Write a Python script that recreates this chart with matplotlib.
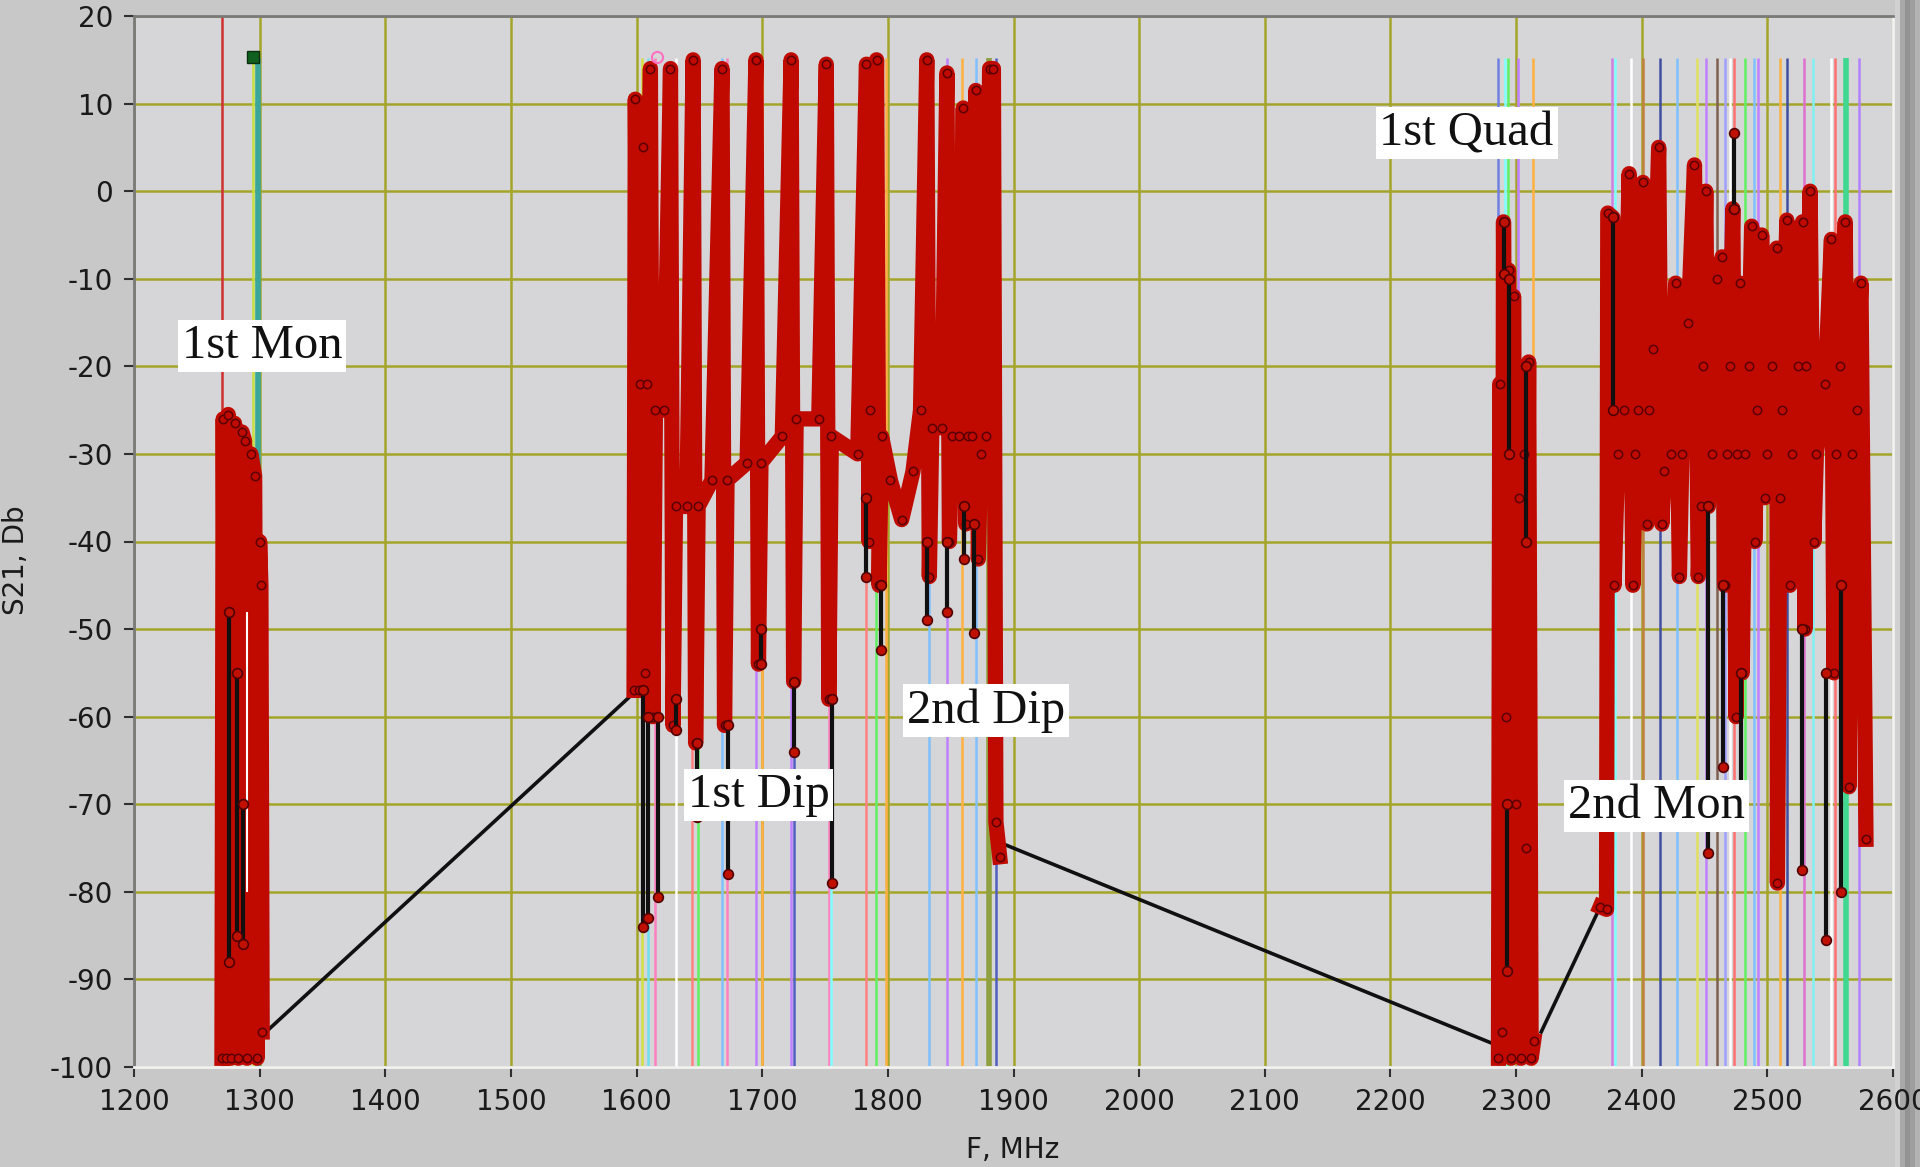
#! /usr/bin/env python3
import numpy as np
import matplotlib
matplotlib.use('Agg')
import matplotlib.pyplot as plt

plt.rcParams['axes.unicode_minus'] = False

# axis ticks
x_ticks = [1200, 1300, 1400, 1500, 1600, 1700, 1800, 1900, 2000, 2100, 2200, 2300, 2400, 2500, 2600]
y_ticks = [20, 10, 0, -10, -20, -30, -40, -50, -60, -70, -80, -90, -100]

# 1st Mon block (F MHz, S21 dB)
mon1_f = [1270, 1271, 1273, 1275, 1277, 1280, 1283, 1286, 1288, 1290, 1293, 1296, 1298, 1300, 1301, 1302]
mon1_db = [-99, -26, -99, -25.5, -99, -26.5, -99, -27.5, -28.5, -99, -30, -32.5, -99, -40, -45, -96]

# main band 1600..1890 (1st Dip / 2nd Dip): valley -> peak -> drop -> back to baseline
band_f = [1598, 1599, 1602, 1603, 1605, 1607, 1608, 1611, 1613, 1615, 1622, 1627, 1629, 1631, 1640,
          1645, 1647, 1649, 1660, 1668, 1670, 1672, 1688, 1695, 1697, 1699, 1716, 1723, 1725, 1727,
          1745, 1751, 1753, 1755, 1776, 1783, 1785, 1786, 1791, 1793, 1795, 1802, 1811, 1820, 1826,
          1831, 1833, 1835, 1843, 1847, 1849, 1851, 1857, 1860, 1862, 1864, 1867, 1870, 1872, 1874,
          1878, 1881, 1884, 1886, 1889]
band_db = [-57, 10.5, -57, -22, 5, -55, -22, 14, -60, -25, -25, 14, -61, -36, -36,
           15, -63, -36, -33, 14, -61, -33, -31, 15, -54, -31, -28, 15, -56, -26,
           -26, 14.5, -58, -28, -30, 14.5, -40, -25, 15, -45, -28, -33, -37.5, -32, -25,
           15, -44, -27, -27, 13.5, -40, -28, -28, 9.5, -38, -28, -28, 11.5, -42, -30,
           -28, 14, 14, -72, -76]

# 1st Quad block
quad_f = [2286, 2287, 2289, 2290, 2292, 2294, 2296, 2298, 2300, 2302, 2304, 2306, 2308, 2310, 2312, 2314]
quad_db = [-99, -22, -96, -3.5, -60, -9, -99, -12, -70, -35, -99, -30, -75, -19.5, -99, -97]

# 2nd Mon band
mon2_f = [2367, 2372, 2373, 2377, 2378, 2381, 2386, 2390, 2393, 2395, 2397, 2401, 2404, 2406, 2409,
          2413.5, 2416, 2418, 2423, 2427, 2430, 2432, 2437, 2442, 2445, 2447, 2449, 2451, 2453, 2456,
          2460, 2464, 2466, 2468, 2470, 2472.5, 2475, 2476, 2478, 2480, 2482, 2485, 2487.5, 2490, 2492,
          2495.5, 2498, 2500, 2504, 2507.5, 2508, 2510, 2512, 2515.5, 2518, 2520, 2524, 2528, 2530,
          2531, 2534, 2537, 2539, 2546, 2551, 2553, 2555, 2558, 2562, 2565, 2567, 2571, 2574.5, 2578.5]
mon2_db = [-81.7, -82, -2.5, -3, -45, -30, -25, 2, -45, -30, -25, 1, -38, -25, -18,
           5, -38, -32, -30, -10.5, -44, -30, -15, 3, -44, -36, -20, 0, -36, -30,
           -10, -7.5, -45, -30, -20, -2, -60, -30, -10.5, -55, -30, -20, -4, -40, -25,
           -5, -35, -30, -20, -6.5, -79, -35, -25, -3.3, -45, -30, -20, -3.5, -50,
           -20, 0, -40, -30, -22, -5.5, -55, -30, -20, -3.5, -68, -30, -25, -10.5, -74]

# black lines between the sweeps
link_f = [[1305, 1597], [1893, 2281], [2320, 2367]]
link_db = [[-96, -57.4], [-74.6, -97.3], [-96, -81.7]]

# black dips with markers: freq, from, to
dip_f = [1276, 1282, 1287, 1605, 1609, 1617, 1631, 1648, 1673, 1699, 1725.5, 1755.5, 1783, 1794.5,
         1831, 1847, 1860.5, 1868.5, 2290, 2294.5, 2293, 2308, 2377, 2452.5, 2465, 2473.5, 2479,
         2527.5, 2546.5, 2559]
dip_top = [-48, -55, -70, -57, -60, -60, -58, -63, -61, -50, -56, -58, -35, -45,
           -40, -40, -36, -38, -3.5, -10, -70, -20, -3, -36, -45, 6.6, -55,
           -50, -55, -45]
dip_bot = [-88, -85, -86, -84, -83, -80.6, -61.5, -71.4, -78, -54, -64, -79, -44, -52.4,
           -49, -48, -42, -50.4, -9.5, -30, -89, -40, -25, -75.6, -65.7, -2, -68,
           -77.5, -85.5, -80]

# cursor lines (thin)
cursor_f = [1295, 1604, 1608.8, 1615, 1631, 1643.8, 1648.6, 1667.7, 1671.7, 1694.8, 1699.6, 1722.7,
            1725, 1753, 1754.6, 1782.5, 1790.4, 1798.4, 1832.7, 1847, 1859, 1870, 1886,
            2286, 2290.8, 2293.2, 2301.2, 2313.1,
            2376.1, 2378.5, 2391.2, 2400.8, 2414.3, 2427.9, 2443.8, 2451, 2459.8, 2466.1, 2470.1,
            2473.3, 2482, 2489.2, 2492.4, 2510, 2515.5, 2529.1, 2536.3, 2550.6, 2553.8, 2572.9]
cursor_col = ['#c8e040', '#d0e040', '#70e0f0', '#ff80c0', '#ffffff', '#ff8080', '#60f060', '#80c0ff',
              '#ff80c0', '#c080ff', '#ffb040', '#c080ff', '#5060c0', '#ff80c0', '#80ffff', '#ff8080',
              '#60f060', '#ffb040', '#80c0ff', '#c080ff', '#ffb040', '#80c0ff', '#5060c0',
              '#7080e0', '#80ffff', '#60f060', '#c080ff', '#ffb040',
              '#d080e0', '#80ffff', '#ffffff', '#c08040', '#4050a0', '#80c0ff', '#e0e060', '#c080ff',
              '#806050', '#a0a0ff', '#ffffff', '#ff7070', '#60f060', '#80c0ff', '#c080ff', '#ffb040',
              '#4050a0', '#e070d0', '#80f0f0', '#ffffff', '#ff7070', '#b080ff']
# wide cursors
wide_f = [1299, 1880.5, 2562.5]
wide_col = ['#3aa79a', '#8fa040', '#40d890']

labels = ['1st Mon', '1st Quad', '1st Dip', '2nd Dip', '2nd Mon']
label_f = [1302, 2260.6, 1697, 1878, 2412]
label_db = [-17.7, 6.6, -68.9, -59.3, -70.2]

RED = '#c00a00'


def draw_trace(ax, f, db):
    ax.plot(f, db, color=RED, lw=11, solid_joinstyle='round', marker='o', ms=6,
            mfc=RED, mec='#5a0000', mew=1.1, zorder=3)


def main():
    fig = plt.figure(figsize=(19.2, 11.67), dpi=100, facecolor='#c8c8c8')

    # bevel strip on the right side, under the tick labels
    sx = fig.add_axes([1895 / 1920, 0, 25 / 1920, 1], zorder=-1)
    sx.imshow(np.array([[0.82, 0.66, 0.58, 0.62, 0.7]]), cmap='gray', vmin=0, vmax=1,
              aspect='auto', extent=[0, 1, 0, 1])
    sx.axis('off')

    ax = fig.add_axes([134 / 1920, 1 - 1067 / 1167, (1893 - 134) / 1920, (1067 - 16) / 1167])
    ax.set_facecolor('#d6d6d9')
    ax.set_xlim(1200, 2600)
    ax.set_ylim(-100, 20)

    ax.set_axisbelow(True)
    ax.grid(True, color='#a4a428', lw=1.8)
    ax.set_xticks(x_ticks)
    ax.set_yticks(y_ticks)
    ax.set_xticklabels([str(v) for v in x_ticks])
    ax.set_yticklabels([str(v) for v in y_ticks])
    ax.tick_params(direction='out', length=7, width=1.5, color='#303030', labelsize=20,
                   labelcolor='#1a1a1a', pad=8)
    for s in ['left', 'top']:
        ax.spines[s].set_color('#7a7a7a')
        ax.spines[s].set_linewidth(2)
    for s in ['bottom', 'right']:
        ax.spines[s].set_color('#f2f2f2')
        ax.spines[s].set_linewidth(2)

    # cursors
    ax.axvline(1270, color='#d03030', lw=1.8, zorder=1.5)
    ax.vlines(cursor_f, -100, 15.2, colors=cursor_col, lw=1.8, zorder=1.5)
    ax.vlines(wide_f, -100, 15.2, colors=wide_col, lw=4, zorder=1.5)
    ax.vlines([1290], -80, -48, colors='#ffffff', lw=1.5, zorder=3.6)
    ax.plot([1295], [15.3], marker='s', ms=9, mfc='#106020', mec='#0a3010', zorder=5)
    ax.plot([1616], [15.3], marker='o', ms=8, mfc='none', mec='#ff70c0', mew=1.5, zorder=5)

    # black connection lines
    for lf, ld in zip(link_f, link_db):
        ax.plot(lf, ld, color='#101010', lw=2.6, zorder=2.5)

    # red sweeps
    draw_trace(ax, mon1_f, mon1_db)
    draw_trace(ax, band_f, band_db)
    draw_trace(ax, quad_f, quad_db)
    draw_trace(ax, mon2_f, mon2_db)

    # dips
    ax.vlines(dip_f, dip_bot, dip_top, colors='#101010', lw=3, zorder=4)
    ax.plot(dip_f, dip_bot, ls='none', marker='o', ms=7, mfc='#c01000', mec='#500000', mew=1.2, zorder=4.5)
    ax.plot(dip_f, dip_top, ls='none', marker='o', ms=7, mfc='#c01000', mec='#500000', mew=1.2, zorder=4.5)

    for t, lf, ld in zip(labels, label_f, label_db):
        ax.text(lf, ld, t, family='Liberation Serif', fontsize=35, ha='center', va='center',
                color='#111111', zorder=7,
                bbox=dict(boxstyle='square,pad=0.08', facecolor='white', edgecolor='none'))

    fig.text(16 / 1920, 1 - 560 / 1167, 'S21, Db', rotation=90, ha='center', va='center',
             fontsize=20, color='#1a1a1a')
    fig.text(1013 / 1920, 1 - 1150 / 1167, 'F, MHz', ha='center', va='center',
             fontsize=20, color='#1a1a1a')

    fig.savefig('out.png', dpi=100, facecolor=fig.get_facecolor())


main()
